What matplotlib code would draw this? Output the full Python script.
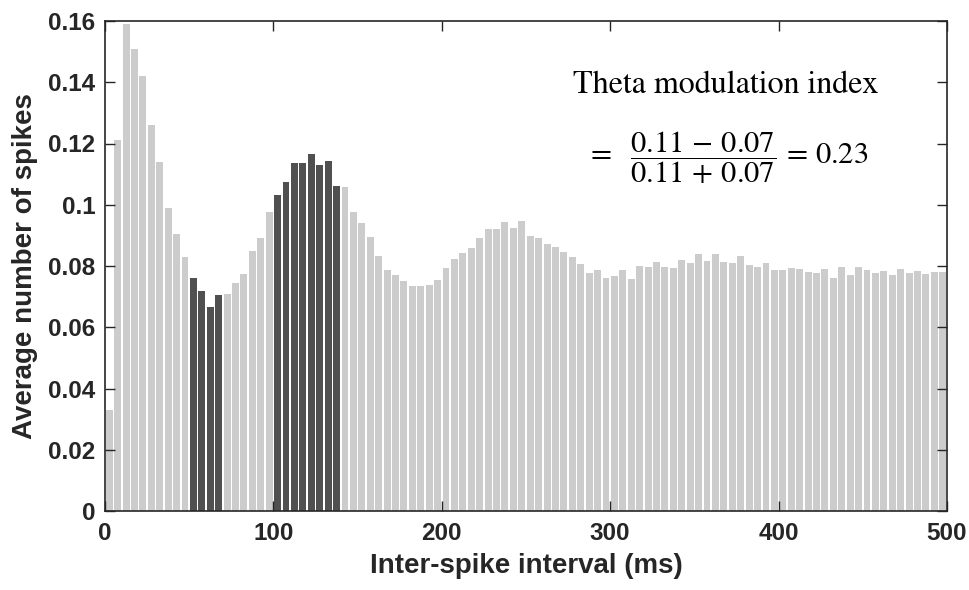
import numpy as np
import matplotlib
matplotlib.use("Agg")
import matplotlib.pyplot as plt

# ---- data ----
bin_width = 5  # ms
counts = [
    0.033, 0.121, 0.159, 0.151, 0.142, 0.126, 0.114, 0.099, 0.0905, 0.083,
    0.076, 0.072, 0.0667, 0.0705, 0.071, 0.0745, 0.0775, 0.085, 0.089, 0.0976,
    0.1032, 0.1074, 0.1137, 0.1137, 0.1166, 0.113, 0.1143, 0.1061, 0.1058, 0.0976,
    0.0941, 0.0895, 0.0833, 0.0787, 0.0771, 0.0751, 0.0735, 0.0735, 0.0738, 0.0754,
    0.0794, 0.0823, 0.0843, 0.0859, 0.0892, 0.0921, 0.0921, 0.0944, 0.0924, 0.0947,
    0.0898, 0.0892, 0.0872, 0.0862, 0.0846, 0.083, 0.0807, 0.0777, 0.0787, 0.0761,
    0.0767, 0.0787, 0.0758, 0.08, 0.0797, 0.0813, 0.0797, 0.0794, 0.082, 0.081,
    0.0839, 0.0816, 0.0839, 0.0813, 0.081, 0.0833, 0.0803, 0.0797, 0.081, 0.0787,
    0.0787, 0.0794, 0.079, 0.0781, 0.0777, 0.079, 0.0761, 0.0797, 0.0771, 0.0797,
    0.0787, 0.0777, 0.0784, 0.0771, 0.079, 0.0777, 0.0784, 0.0774, 0.0781, 0.0781,
]
trough_range = (50, 70)   # ms, highlighted
peak_range = (100, 140)   # ms, highlighted
x_ticks = [0, 100, 200, 300, 400, 500]
y_ticks = [0, 0.02, 0.04, 0.06, 0.08, 0.1, 0.12, 0.14, 0.16]
y_tick_labels = ['0', '0.02', '0.04', '0.06', '0.08', '0.1', '0.12', '0.14', '0.16']

# ---- plot ----
light = '#cccccc'
dark = '#505050'
edges = np.arange(len(counts)) * bin_width
centers = edges + bin_width / 2
colors = []
for e in edges:
    if trough_range[0] <= e < trough_range[1] or peak_range[0] <= e < peak_range[1]:
        colors.append(dark)
    else:
        colors.append(light)

fig = plt.figure(figsize=(9.7, 5.9), dpi=100)
ax = fig.add_axes([105/970, 1 - 511/590, (947 - 105)/970, (511 - 21)/590])
ax.bar(centers, counts, width=bin_width * 0.82, color=colors, linewidth=0)

ax.set_xlim(0, 500)
ax.set_ylim(0, 0.16)
ax.set_xticks(x_ticks)
ax.set_yticks(y_ticks)
ax.set_yticklabels(y_tick_labels)

axis_color = '#262626'
for s in ax.spines.values():
    s.set_color(axis_color)
    s.set_linewidth(1.2)
ax.tick_params(direction='in', length=7, width=1.0, color=axis_color,
               top=True, right=True, labelsize=17.5, labelcolor=axis_color)
ax.tick_params(axis='x', pad=8)
ax.tick_params(axis='y', pad=7)
for lab in ax.get_xticklabels() + ax.get_yticklabels():
    lab.set_fontfamily('Liberation Sans')
    lab.set_fontweight('bold')

ax.set_xlabel('Inter-spike interval (ms)', fontsize=20, fontweight='bold',
              family='Liberation Sans', color=axis_color, labelpad=6)
ax.set_ylabel('Average number of spikes', fontsize=20, fontweight='bold',
              family='Liberation Sans', color=axis_color, labelpad=7)

plt.rcParams['mathtext.fontset'] = 'stix'
fig.text(726/970, 1 - 85/590, 'Theta modulation index', ha='center', va='center',
         fontsize=23, family='STIXGeneral', color='black')
fig.text(727/970, 1 - 158/590,
         r'$=\ \ \dfrac{0.11\,-\,0.07}{0.11\,+\,0.07}\,=\,0.23$',
         ha='center', va='center', fontsize=22, color='black')

fig.savefig('out.png', dpi=100)
